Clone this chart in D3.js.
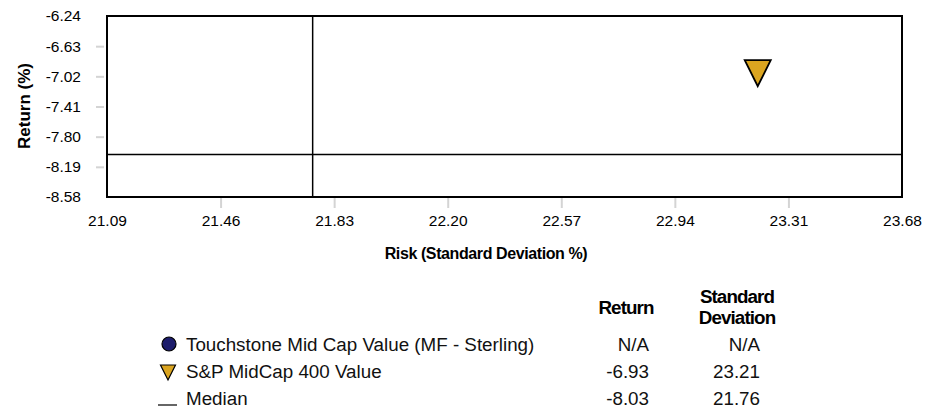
<!DOCTYPE html>
<html>
<head>
<meta charset="utf-8">
<script src="https://cdn.jsdelivr.net/npm/d3@7/dist/d3.min.js"></script>
<style>
  html, body { margin: 0; padding: 0; background: #fff; }
  svg { display: block; font-family: "Liberation Sans", Arial, sans-serif; }
</style>
</head>
<body>
<svg id="chart" width="938" height="413"></svg>
<script>
// Axis ticks
const xTicks = [21.09, 21.46, 21.83, 22.20, 22.57, 22.94, 23.31, 23.68];
const yTicks = [-6.24, -6.63, -7.02, -7.41, -7.80, -8.19, -8.58];

// Series (risk = standard deviation %, return %)
const seriesNames = ["Touchstone Mid Cap Value (MF - Sterling)", "S&P MidCap 400 Value", "Median"];
const seriesReturn = [null, -6.93, -8.03];
const seriesRisk = [null, 23.21, 21.76];
const seriesColors = ["#1c1c6b", "#dba520", "#000000"];

const svg = d3.select("#chart");
const plot = { left: 107, right: 902, top: 16, bottom: 197 };

const x = d3.scaleLinear().domain([21.09, 23.68]).range([plot.left, plot.right]);
const y = d3.scaleLinear().domain([-8.58, -6.24]).range([plot.bottom, plot.top]);

// Two decimals with a plain hyphen for negatives
const fmt2 = v => v.toFixed(2);
const tickFs = 15.5;

// Y axis: gray tick marks, labels to the left
const yAxis = d3.axisLeft(y).tickValues(yTicks).tickFormat(fmt2)
  .tickSize(8).tickPadding(15);
const gy = svg.append("g").attr("transform", `translate(${plot.left - 3},0)`).call(yAxis);
gy.select(".domain").remove();
gy.selectAll(".tick line").attr("stroke", "#d4d4d4").attr("stroke-width", 2);
gy.selectAll(".tick text").attr("fill", "#000").attr("font-size", tickFs)
  .attr("font-family", "Liberation Sans, Arial, sans-serif");
// end ticks sit on the frame and show no mark
gy.selectAll(".tick").filter(d => d === -6.24 || d === -8.58).select("line").remove();

// X axis
const xAxis = d3.axisBottom(x).tickValues(xTicks).tickFormat(fmt2)
  .tickSize(10).tickPadding(7);
const gx = svg.append("g").attr("transform", `translate(0,${plot.bottom + 1})`).call(xAxis);
gx.select(".domain").remove();
gx.selectAll(".tick line").attr("stroke", "#d4d4d4").attr("stroke-width", 2);
gx.selectAll(".tick text").attr("fill", "#000").attr("font-size", tickFs)
  .attr("font-family", "Liberation Sans, Arial, sans-serif");
gx.selectAll(".tick").filter(d => d === 21.09 || d === 23.68).select("line").remove();

// Median cross lines
svg.append("line")
  .attr("x1", x(seriesRisk[2])).attr("x2", x(seriesRisk[2]))
  .attr("y1", plot.top).attr("y2", plot.bottom)
  .attr("stroke", "#000").attr("stroke-width", 1.5);
svg.append("line")
  .attr("x1", plot.left).attr("x2", plot.right)
  .attr("y1", y(seriesReturn[2])).attr("y2", y(seriesReturn[2]))
  .attr("stroke", "#000").attr("stroke-width", 1.5);

// Plot frame
svg.append("rect")
  .attr("x", plot.left).attr("y", plot.top)
  .attr("width", plot.right - plot.left).attr("height", plot.bottom - plot.top)
  .attr("fill", "none").attr("stroke", "#000").attr("stroke-width", 2);

// Down-pointing triangle path centred on (0,0)
function triPath(w) {
  const h = w * 1.0;
  return `M${-w / 2},${-h / 3}L${w / 2},${-h / 3}L0,${2 * h / 3}Z`;
}

// Benchmark point
svg.append("path")
  .attr("d", triPath(26))
  .attr("transform", `translate(${x(seriesRisk[1])},${y(seriesReturn[1]) - 0.5})`)
  .attr("fill", seriesColors[1]).attr("stroke", "#000").attr("stroke-width", 1.8)
  .attr("stroke-linejoin", "miter");

// Axis titles
svg.append("text")
  .attr("transform", "translate(30,106) rotate(-90)")
  .attr("text-anchor", "middle")
  .attr("font-size", 17).attr("font-weight", "bold")
  .text("Return (%)");
svg.append("text")
  .attr("x", 486).attr("y", 259)
  .attr("text-anchor", "middle")
  .attr("font-size", 16).attr("font-weight", "bold").attr("letter-spacing", -0.4)
  .text("Risk (Standard Deviation %)");

// Legend table
const rowY = [344, 371, 398];
const colReturn = 649, colStd = 760;
const fmt = v => v === null ? "N/A" : fmt2(v);
const fs = 18.8;

svg.append("text").attr("x", 626).attr("y", 314).attr("text-anchor", "middle")
  .attr("font-size", fs).attr("font-weight", "bold").attr("letter-spacing", -0.9)
  .text("Return");
svg.append("text").attr("x", 737).attr("y", 303).attr("text-anchor", "middle")
  .attr("font-size", fs).attr("font-weight", "bold").attr("letter-spacing", -0.9)
  .text("Standard");
svg.append("text").attr("x", 737).attr("y", 324).attr("text-anchor", "middle")
  .attr("font-size", fs).attr("font-weight", "bold").attr("letter-spacing", -0.9)
  .text("Deviation");

const rows = svg.append("g").selectAll("g").data(seriesNames).join("g");
rows.append("text")
  .attr("x", 186).attr("y", (d, i) => rowY[i] + 6.5)
  .attr("font-size", fs).attr("fill", "#111")
  .text(d => d);
rows.append("text")
  .attr("x", colReturn).attr("y", (d, i) => rowY[i] + 6.5)
  .attr("text-anchor", "end").attr("font-size", fs).attr("fill", "#111")
  .text((d, i) => fmt(seriesReturn[i]));
rows.append("text")
  .attr("x", colStd).attr("y", (d, i) => rowY[i] + 6.5)
  .attr("text-anchor", "end").attr("font-size", fs).attr("fill", "#111")
  .text((d, i) => fmt(seriesRisk[i]));

// Legend symbols
svg.append("circle").attr("cx", 169).attr("cy", rowY[0]).attr("r", 7)
  .attr("fill", seriesColors[0]).attr("stroke", "#000").attr("stroke-width", 1.2);
svg.append("path").attr("d", triPath(15))
  .attr("transform", `translate(168,${rowY[1] - 1})`)
  .attr("fill", seriesColors[1]).attr("stroke", "#000").attr("stroke-width", 1.2);
svg.append("line").attr("x1", 158).attr("x2", 177)
  .attr("y1", rowY[2] + 7).attr("y2", rowY[2] + 7)
  .attr("stroke", seriesColors[2]).attr("stroke-width", 1.2);
</script>
</body>
</html>
